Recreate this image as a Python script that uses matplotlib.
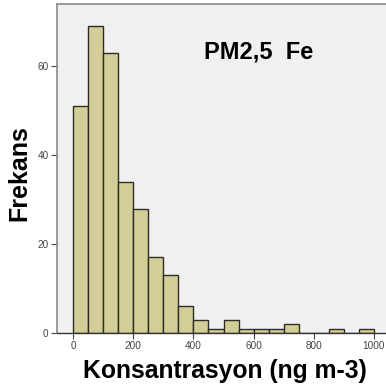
import matplotlib
matplotlib.use("Agg")
import matplotlib.pyplot as plt
import numpy as np

bin_edges = list(range(0, 1001, 50))
counts = [51, 69, 63, 34, 28, 17, 13, 6, 3, 1, 3, 1, 1, 1, 2, 0, 0, 1, 0, 1]
x_ticks = [0, 200, 400, 600, 800, 1000]
y_ticks = [0, 20, 40, 60]
title_text = "PM2,5  Fe"
x_label = "Konsantrasyon (ng m-3)"
y_label = "Frekans"

plt.rcParams['font.family'] = ['Liberation Sans', 'DejaVu Sans']

fig = plt.figure(figsize=(3.86, 3.92), dpi=100)
ax = fig.add_axes([57/386, 1-333/392, (392-57)/386, (333-4)/392])
ax.set_facecolor('#F0F0F0')

lefts = bin_edges[:-1]
widths = [bin_edges[i+1]-bin_edges[i] for i in range(len(lefts))]
ax.bar(lefts, counts, width=widths, align='edge', color='#D3CE98',
       edgecolor='#2e2e26', linewidth=1.0, zorder=2)

px_per_unit = (374 - 73) / 1000
ax.set_xlim((57 - 73) / px_per_unit, (392 - 73) / px_per_unit)
ax.set_ylim(0, 74)
ax.set_xticks(x_ticks)
ax.set_yticks(y_ticks)
ax.tick_params(axis='both', labelsize=7.2, colors='#444444', length=4, width=0.8, pad=2)

ax.spines['right'].set_visible(False)
for s in ['top', 'left']:
    ax.spines[s].set_color('#8a8a8a')
    ax.spines[s].set_linewidth(1.2)
ax.spines['bottom'].set_color('#333333')
ax.spines['bottom'].set_linewidth(1.0)

fig.text(258.5/386, 1-52/392, title_text,
         ha='center', va='center', fontsize=17, fontweight='bold')

fig.text(224.5/386, 1-371/392, x_label, ha='center', va='center', fontsize=17.8, fontweight='bold')
fig.text(19/386, 1-173/392, y_label, ha='center', va='center', fontsize=18,
         fontweight='bold', rotation=90)

fig.savefig('out.png', dpi=100)
